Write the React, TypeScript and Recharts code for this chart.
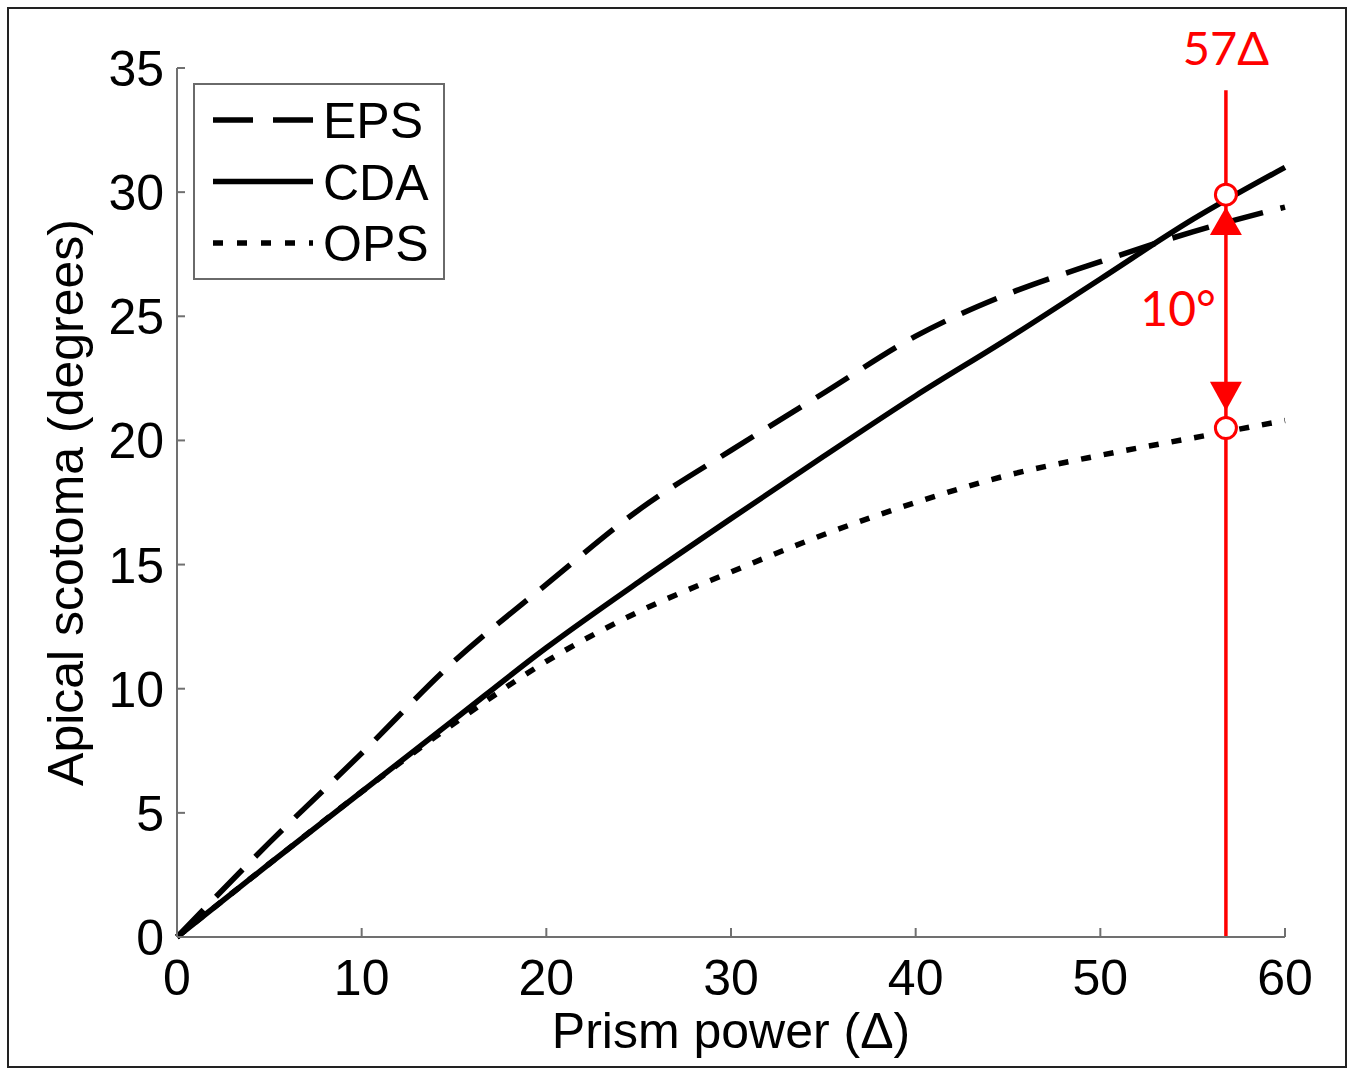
import React from 'react';
import {
  LineChart,
  Line,
  XAxis,
  YAxis,
  Legend,
  ReferenceLine,
  ReferenceDot,
} from 'recharts';

// Prism power (Δ)
const PRISM_POWER = [0, 5, 10, 15, 20, 25, 30, 35, 40, 45, 50, 55, 60];
// Apical scotoma (degrees) per model
const EPS_VALUES = [0, 3.8, 7.4, 11.1, 14.2, 17.2, 19.6, 21.9, 24.2, 25.9, 27.2, 28.4, 29.4];
const CDA_VALUES = [0, 2.95, 5.85, 8.75, 11.65, 14.3, 16.85, 19.35, 21.8, 24.1, 26.5, 28.9, 31.0];
const OPS_VALUES = [0, 2.95, 5.85, 8.6, 11.1, 13.1, 14.7, 16.2, 17.5, 18.6, 19.4, 20.1, 20.8];

const X_TICKS = [0, 10, 20, 30, 40, 50, 60];
const Y_TICKS = [0, 5, 10, 15, 20, 25, 30, 35];

// red annotation, drawn at about 57Δ
const MARK_X = 56.8;
const MARK_TOP = 34.1;
const MARK_EPS_CDA = 29.9;
const MARK_OPS = 20.5;
const ARROW_UP_TIP = 29.4;
const ARROW_DOWN_TIP = 21.2;
const GAP_LABEL_Y = 24.6;

const data = PRISM_POWER.map((x, i) => ({
  x,
  eps: EPS_VALUES[i],
  cda: CDA_VALUES[i],
  ops: OPS_VALUES[i],
}));

const SERIES = [
  { key: 'eps', name: 'EPS', dash: '38 18', legendDash: '40 20' },
  { key: 'cda', name: 'CDA', dash: undefined, legendDash: undefined },
  { key: 'ops', name: 'OPS', dash: '10 13', legendDash: '10 14' },
];

const FONT = '"Liberation Sans", Arial, Helvetica, sans-serif';
const RED = '#ff0000';
const AXIS = '#707070';

const YTick = ({ x, y, payload }: any) => (
  <g>
    <line x1={x} x2={x + 8} y1={y} y2={y} stroke={AXIS} strokeWidth={2} />
    <text x={x - 13} y={y + 18} textAnchor="end" fontSize={50} fontFamily={FONT} fill="#000">
      {payload.value}
    </text>
  </g>
);

const XTick = ({ x, y, payload }: any) => (
  <g>
    <line x1={x} x2={x} y1={y} y2={y - 9} stroke={AXIS} strokeWidth={2} />
    <text x={x} y={y + 58} textAnchor="middle" fontSize={50} fontFamily={FONT} fill="#000">
      {payload.value}
    </text>
  </g>
);

const renderLegend = () => (
  <div
    style={{
      width: 252,
      height: 197,
      boxSizing: 'border-box',
      border: '2px solid #6a6a6a',
      background: '#fff',
    }}
  >
    <svg width={248} height={193} style={{ display: 'block' }}>
      {SERIES.map((s, i) => {
        const y = 35 + 61.5 * i;
        return (
          <g key={s.key}>
            <line
              x1={18}
              x2={118}
              y1={y}
              y2={y}
              stroke="#000"
              strokeWidth={5.5}
              strokeDasharray={s.legendDash}
            />
            <text x={128} y={y + 18} fontSize={50} fontFamily={FONT} fill="#000">
              {s.name}
            </text>
          </g>
        );
      })}
    </svg>
  </div>
);

const UpArrow = ({ cx, cy }: any) => (
  <path d={`M${cx},${cy} L${cx - 16},${cy + 28} L${cx + 16},${cy + 28} Z`} fill={RED} />
);

const DownArrow = ({ cx, cy }: any) => (
  <path d={`M${cx},${cy} L${cx - 16},${cy - 29} L${cx + 16},${cy - 29} Z`} fill={RED} />
);

const TopLabel = ({ cx, cy }: any) => (
  <text x={cx} y={cy - 25} textAnchor="middle" fontSize={47} fontFamily="Lato, sans-serif" fill={RED}>
    57Δ
  </text>
);

const GapLabel = ({ cx, cy }: any) => (
  <text x={cx - 10} y={cy} textAnchor="end" fontSize={48} fontFamily="Lato, sans-serif" fill={RED}>
    10°
  </text>
);

export default function App() {
  return (
    <div style={{ position: 'absolute', left: 0, top: 0, width: 1352, height: 1070, background: '#fff' }}>
      <div
        style={{
          position: 'absolute',
          left: 7,
          top: 7,
          width: 1340,
          height: 1061,
          boxSizing: 'border-box',
          border: '2px solid #222',
        }}
      />
      <LineChart
        width={1352}
        height={1070}
        data={data}
        margin={{ top: 68, right: 67, bottom: 0, left: 0 }}
        style={{ fontFamily: FONT }}
      >
        <XAxis
          type="number"
          dataKey="x"
          domain={[0, 60]}
          ticks={X_TICKS}
          height={133}
          tickSize={0}
          tickMargin={0}
          tickLine={false}
          tick={<XTick />}
          axisLine={{ stroke: AXIS, strokeWidth: 2 }}
          label={{
            value: 'Prism power (Δ)',
            position: 'insideBottom',
            offset: 22,
            fontSize: 50,
            fill: '#000',
            fontFamily: FONT,
          }}
        />
        <YAxis
          type="number"
          domain={[0, 35]}
          ticks={Y_TICKS}
          width={177}
          tickSize={0}
          tickMargin={0}
          tickLine={false}
          tick={<YTick />}
          axisLine={{ stroke: AXIS, strokeWidth: 2 }}
          label={{
            value: 'Apical scotoma (degrees)',
            angle: -90,
            position: 'insideLeft',
            offset: 65,
            textAnchor: 'middle',
            fontSize: 50,
            fill: '#000',
            fontFamily: FONT,
          }}
        />
        <Legend
          layout="vertical"
          align="center"
          verticalAlign="middle"
          content={renderLegend}
          wrapperStyle={{ position: 'absolute', left: 193, top: 83, width: 252, height: 197 }}
        />
        {SERIES.map((s) => (
          <Line
            key={s.key}
            type="monotone"
            dataKey={s.key}
            name={s.name}
            stroke="#000"
            strokeWidth={5.5}
            strokeDasharray={s.dash}
            dot={false}
            activeDot={false}
            isAnimationActive={false}
          />
        ))}
        <ReferenceLine
          segment={[
            { x: MARK_X, y: 0 },
            { x: MARK_X, y: MARK_TOP },
          ]}
          stroke={RED}
          strokeWidth={3.5}
        />
        <ReferenceDot x={MARK_X} y={ARROW_UP_TIP} shape={UpArrow} />
        <ReferenceDot x={MARK_X} y={ARROW_DOWN_TIP} shape={DownArrow} />
        <ReferenceDot x={MARK_X} y={MARK_TOP} shape={TopLabel} />
        <ReferenceDot x={MARK_X} y={GAP_LABEL_Y} shape={GapLabel} />
        <ReferenceDot x={MARK_X} y={MARK_EPS_CDA} r={10.5} fill="#fff" stroke={RED} strokeWidth={3} />
        <ReferenceDot x={MARK_X} y={MARK_OPS} r={10.5} fill="#fff" stroke={RED} strokeWidth={3} />
      </LineChart>
    </div>
  );
}
